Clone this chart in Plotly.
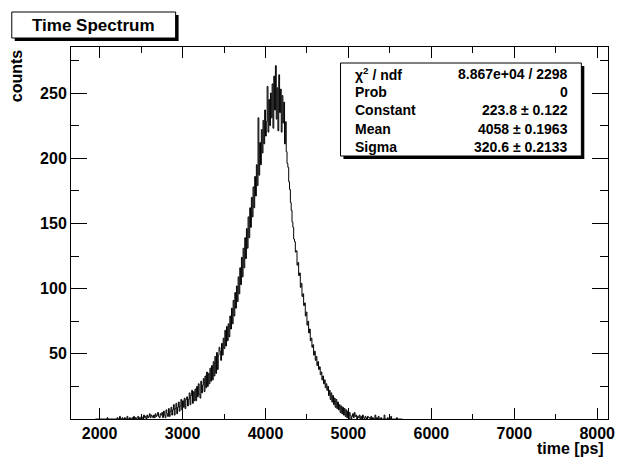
import numpy as np
import plotly.graph_objects as go

# histogram: counts per 10 ps bin, first bin starts at 1950 ps
bin_start = 1950
bin_width = 10
counts = [
    0, 0, 0, 0, 0, 0, 0, 0, 0, 0,
    0, 0, 0, 0, 1, 0, 0, 0, 0, 0,
    0, 0, 0, 0, 0, 0, 1, 0, 0, 2,
    0, 0, 1, 0, 0, 1, 0, 0, 2, 0,
    0, 1, 0, 0, 1, 0, 2, 0, 1, 0,
    1, 2, 0, 1, 0, 2, 1, 0, 3, 1,
    2, 0, 3, 1, 2, 4, 1, 3, 2, 1,
    3, 1, 4, 2, 3, 5, 2, 1, 4, 3,
    5, 1, 6, 3, 1, 7, 4, 2, 8, 2,
    6, 9, 3, 7, 11, 3, 8, 12, 4, 9,
    13, 6, 10, 15, 7, 14, 9, 16, 8, 15,
    17, 10, 15, 20, 11, 18, 22, 12, 21, 14,
    23, 14, 25, 17, 27, 19, 16, 29, 20, 26,
    31, 21, 33, 24, 36, 25, 35, 27, 39, 29,
    41, 30, 44, 33, 48, 35, 51, 38, 49, 55,
    52, 45, 58, 49, 62, 54, 68, 56, 71, 60,
    73, 63, 79, 69, 85, 73, 91, 79, 97, 85,
    102, 90, 109, 96, 116, 103, 124, 109, 131, 116,
    139, 123, 146, 131, 155, 139, 162, 147, 170, 155,
    178, 162, 186, 171, 195, 179, 231, 187, 212, 195,
    222, 204, 229, 211, 237, 217, 228, 255, 220, 245,
    225, 250, 231, 257, 223, 263, 237, 271, 230, 254,
    221, 264, 235, 253, 220, 248, 227, 243, 211, 228,
    205, 196, 193, 182, 176, 166, 160, 151, 147, 138,
    136, 128, 129, 118, 120, 110, 112, 101, 104, 94,
    96, 87, 89, 79, 82, 72, 75, 66, 69, 60,
    62, 55, 57, 49, 52, 45, 48, 41, 44, 38,
    40, 34, 36, 30, 33, 27, 30, 24, 27, 22,
    25, 18, 22, 15, 20, 13, 18, 11, 16, 9,
    15, 8, 13, 7, 11, 5, 10, 4, 9, 3,
    8, 2, 7, 1, 6, 0, 5, 3, 0, 2,
    4, 1, 5, 2, 3, 0, 2, 1, 3, 0,
    2, 0, 3, 1, 0, 2, 1, 0, 2, 1,
    1, 0, 2, 0, 1, 0, 0, 3, 0, 1,
    0, 2, 0, 0, 1, 0, 0, 0, 3, 0,
    0, 0, 1, 0, 0, 0, 2, 0, 0, 0,
    0, 0, 0, 1, 0, 0, 0, 0, 0, 0,
]

# gaussian fit results (stats box)
fit_names = ["χ<sup>2</sup> / ndf", "Prob", "Constant", "Mean", "Sigma"]
fit_values = ["8.867e+04 / 2298", "0", "223.8 ± 0.122", "4058 ± 0.1963", "320.6 ± 0.2133"]

edges = bin_start + bin_width * np.arange(len(counts) + 1)
yvals = counts + [0]

# the page body has an 8px margin, so the figure is drawn 8px shorter/narrower
OFF = 8
W, H = 623, 459
L, R, T, B = 71, 615, 47, 419   # frame in screenshot pixels


def px(x):
    return (x - L) / (R - L)


def py(y):
    return (B - y) / (B - T)


fig = go.Figure(go.Scatter(
    x=edges, y=yvals, mode="lines", line_shape="hv",
    line=dict(color="black", width=1), hoverinfo="skip", showlegend=False
))

font_b = dict(family="Liberation Sans, Arial", color="black", weight="bold")

axis_common = dict(
    ticks="inside", mirror="allticks", showline=True, linecolor="black", linewidth=1,
    showgrid=False, zeroline=False, tickcolor="black", tickwidth=1,
    tickfont=dict(size=16, **font_b),
)

fig.update_xaxes(range=[1655, 8130], tick0=0, dtick=1000, ticklen=11,
                 minor=dict(dtick=500, ticklen=5.5, ticks="inside", tickcolor="black"),
                 **axis_common)
fig.update_yaxes(range=[0, 285.3], tick0=0, dtick=50, ticklen=16,
                 minor=dict(dtick=25, ticklen=8, ticks="inside", tickcolor="black"),
                 **axis_common)
fig.update_yaxes(tickvals=[50, 100, 150, 200, 250])

shapes = []
annotations = []


def box(x0, y0, x1, y1, off=3):
    shapes.append(dict(type="rect", xref="paper", yref="paper",
                       x0=px(x0 + off), x1=px(x1 + off), y0=py(y1 + off), y1=py(y0 + off),
                       fillcolor="black", line=dict(width=0), layer="above"))
    shapes.append(dict(type="rect", xref="paper", yref="paper",
                       x0=px(x0), x1=px(x1), y0=py(y1), y1=py(y0),
                       fillcolor="white", line=dict(color="black", width=1), layer="above"))


# title box
box(11, 12, 177, 38)
annotations.append(dict(xref="paper", yref="paper", x=px(94), y=py(25), text="Time Spectrum",
                        showarrow=False, xanchor="center", yanchor="middle",
                        font=dict(size=17, **font_b)))

# stats box
box(344, 63, 588, 156)
rows_y = [74, 92, 110.5, 128.5, 147]
for name, val, ry in zip(fit_names, fit_values, rows_y):
    annotations.append(dict(xref="paper", yref="paper", x=px(357), y=py(ry), text=name,
                            showarrow=False, xanchor="left", yanchor="middle",
                            font=dict(size=14, **font_b)))
    annotations.append(dict(xref="paper", yref="paper", x=px(577), y=py(ry), text=val,
                            showarrow=False, xanchor="right", yanchor="middle",
                            font=dict(size=14, **font_b)))

# axis titles
annotations.append(dict(xref="paper", yref="paper", x=px(613), y=py(448), text="time [ps]",
                        showarrow=False, xanchor="right", yanchor="middle",
                        font=dict(size=16, **font_b)))
annotations.append(dict(xref="paper", yref="paper", x=px(16), y=py(47), text="counts",
                        textangle=-90, showarrow=False, xanchor="center", yanchor="top",
                        font=dict(size=16, **font_b)))

fig.update_layout(
    width=W - OFF, height=H - OFF,
    margin=dict(l=L - OFF, r=W - R, t=T - OFF, b=H - B),
    paper_bgcolor="white", plot_bgcolor="white",
    shapes=shapes, annotations=annotations,
)

fig.write_html("out.html")
